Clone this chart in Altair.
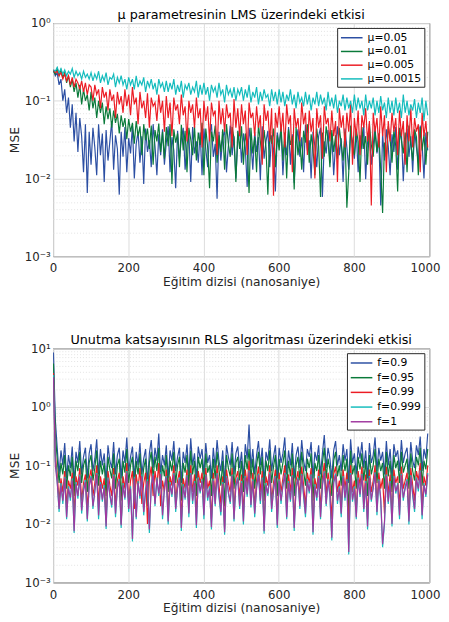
import altair as alt
import pandas as pd

STEP = 5  # samples between plotted points (x = 1, 6, 11, ...)
FONT = "DejaVu Sans"
INK = "#262626"

# ---------------- LMS panel ----------------
lms_names = ["μ=0.05", "μ=0.01", "μ=0.005", "μ=0.0015"]
lms_colors = ["#2c4fa3", "#0a7a3a", "#ec1c24", "#14bcbd"]

lms_005 = [
    .25, .21, .23, .16, .19, .1, .14, .07, .11, .045, .09, .03, .07, .022, .06, .035, .012, .05, .0065, .04,
    .015, .045, .025, .011, .05, .02, .038, .009, .042, .017, .03, .055, .013, .036, .024, .0062, .04, .019, .046, .012,
    .033, .021, .048, .01, .028, .04, .016, .035, .0085, .044, .022, .031, .014, .05, .026, .011, .037, .02, .043, .015,
    .029, .047, .012, .034, .023, .0075, .041, .018, .032, .045, .013, .027, .038, .009, .046, .021, .03, .016, .039, .011,
    .044, .024, .014, .036, .05, .019, .028, .0055, .04, .017, .033, .042, .012, .026, .048, .02, .035, .01, .031, .043,
    .016, .038, .025, .0078, .045, .029, .013, .04, .022, .034, .0095, .047, .018, .03, .041, .014, .036, .024, .0068, .039,
    .027, .044, .011, .032, .02, .046, .015, .037, .0088, .029, .043, .019, .034, .012, .049, .023, .031, .01, .04, .026,
    .014, .035, .045, .0058, .03, .021, .042, .016, .038, .011, .028, .047, .02, .033, .009, .044, .025, .013, .039, .03,
    .018, .041, .012, .036, .024, .048, .0098, .031, .04, .015, .027, .045, .021, .034, .0045, .038, .017, .043, .026, .011,
    .037, .022, .046, .013, .032, .04, .0092, .029, .044, .019, .035, .012, .042, .025, .016, .048, .028, .01, .039, .023,
]
lms_001 = [
    .24, .22, .26, .21, .25, .2, .23, .17, .21, .15, .19, .13, .17, .11, .16, .09, .14, .1, .12, .075,
    .13, .08, .11, .06, .1, .07, .095, .05, .085, .058, .08, .045, .075, .052, .068, .038, .065, .046, .06, .032,
    .058, .04, .052, .028, .055, .035, .047, .02, .05, .031, .044, .024, .048, .015, .042, .03, .051, .022, .04, .018,
    .046, .026, .05, .0085, .043, .029, .038, .014, .049, .023, .041, .012, .045, .032, .02, .047, .017, .039, .027, .052,
    .011, .044, .025, .0075, .04, .03, .048, .016, .036, .022, .043, .013, .05, .028, .019, .046, .033, .009, .041, .024,
    .047, .015, .038, .026, .0065, .045, .021, .034, .012, .049, .03, .018, .042, .025, .0062, .04, .028, .044, .014, .036,
    .023, .048, .017, .039, .01, .043, .027, .035, .0072, .046, .02, .032, .013, .041, .029, .05, .016, .037, .024, .011,
    .044, .026, .0058, .039, .019, .047, .031, .014, .042, .022, .036, .018, .045, .028, .017, .04, .0042, .012, .048, .025,
    .02, .043, .03, .009, .046, .024, .035, .015, .05, .027, .019, .041, .022, .038, .013, .0036, .029, .019, .047, .032,
    .016, .042, .026, .0068, .045, .031, .021, .039, .012, .048, .028, .017, .043, .034, .011, .046, .023, .037, .015, .04,
]
lms_0005 = [
    .25, .23, .24, .21, .23, .19, .22, .18, .21, .16, .2, .15, .19, .17, .14, .18, .13, .17, .12, .16,
    .15, .1, .16, .12, .14, .08, .15, .11, .13, .075, .14, .1, .12, .06, .13, .09, .115, .07, .14, .085,
    .12, .065, .15, .09, .11, .05, .13, .08, .1, .06, .125, .045, .11, .085, .095, .055, .12, .07, .1, .04,
    .115, .06, .095, .035, .11, .075, .09, .05, .12, .065, .085, .03, .1, .07, .09, .045, .11, .06, .08, .025,
    .1, .055, .085, .03, .095, .065, .075, .02, .1, .05, .08, .04, .09, .06, .07, .025, .105, .045, .08, .035,
    .09, .05, .075, .02, .095, .06, .07, .035, .085, .045, .065, .015, .09, .055, .075, .03, .08, .006, .07, .045,
    .085, .04, .07, .025, .09, .05, .065, .012, .08, .045, .06, .03, .095, .05, .07, .02, .075, .04, .06, .01,
    .08, .045, .065, .018, .085, .05, .06, .03, .075, .035, .055, .009, .08, .045, .065, .025, .07, .04, .09, .015,
    .06, .035, .075, .02, .065, .045, .08, .03, .055, .0045, .07, .04, .06, .025, .085, .035, .065, .012, .055, .03,
    .07, .04, .06, .02, .075, .035, .055, .015, .065, .03, .08, .025, .06, .04, .05, .012, .07, .035, .055, .025,
]
lms_00015 = [
    .25, .24, .27, .23, .26, .22, .25, .21, .24, .22, .26, .2, .24, .21, .23, .19, .24, .2, .22, .19,
    .23, .18, .22, .19, .24, .17, .21, .18, .23, .16, .2, .19, .22, .15, .2, .17, .21, .16, .19, .14,
    .2, .16, .19, .14, .21, .15, .18, .16, .2, .13, .18, .15, .19, .14, .17, .12, .19, .15, .17, .13,
    .18, .13, .17, .14, .19, .12, .16, .13, .18, .11, .16, .14, .17, .12, .15, .13, .18, .11, .16, .12,
    .17, .12, .15, .1, .16, .13, .15, .11, .17, .12, .14, .095, .16, .12, .14, .11, .15, .1, .14, .12,
    .15, .1, .14, .11, .16, .095, .13, .11, .15, .09, .13, .1, .14, .11, .12, .085, .14, .1, .13, .09,
    .14, .095, .13, .085, .12, .1, .14, .09, .12, .08, .13, .095, .11, .085, .13, .09, .12, .075, .11, .09,
    .13, .085, .12, .09, .11, .075, .13, .085, .11, .08, .12, .07, .1, .085, .12, .075, .11, .08, .1, .07,
    .12, .075, .11, .08, .1, .065, .12, .075, .1, .08, .11, .065, .1, .07, .115, .075, .095, .06, .11, .07,
    .1, .065, .11, .07, .095, .06, .12, .07, .1, .065, .09, .075, .105, .06, .095, .07, .11, .055, .1, .065,
]

# ---------------- RLS panel ----------------
rls_names = ["f=0.9", "f=0.95", "f=0.99", "f=0.999", "f=1"]
rls_colors = ["#2c4fa3", "#0a7a3a", "#ec1c24", "#14bcbd", "#a0399f"]

rls_09 = [
    8.5, .6, .2, .07, .18, .1, .24, .06, .15, .09, .21, .05, .17, .11, .26, .07, .14, .2, .06, .16,
    .23, .08, .13, .28, .07, .19, .1, .16, .05, .22, .12, .09, .25, .07, .15, .2, .06, .18, .11, .3,
    .08, .14, .21, .06, .17, .1, .24, .07, .13, .19, .05, .16, .27, .09, .2, .12, .35, .07, .15, .1,
    .22, .06, .18, .12, .26, .08, .14, .2, .05, .17, .11, .23, .07, .29, .1, .16, .06, .21, .13, .19,
    .07, .24, .11, .15, .06, .2, .09, .27, .12, .08, .18, .05, .22, .14, .1, .25, .07, .16, .21, .09,
    .17, .06, .23, .13, .5, .09, .19, .07, .15, .26, .1, .2, .05, .17, .12, .28, .08, .14, .22, .06,
    .2, .11, .16, .3, .07, .18, .1, .24, .06, .15, .21, .09, .27, .12, .08, .19, .14, .25, .06, .17,
    .12, .22, .07, .16, .33, .09, .2, .13, .06, .18, .26, .1, .15, .08, .23, .12, .19, .05, .28, .11,
    .16, .07, .21, .13, .25, .09, .18, .06, .24, .11, .15, .3, .08, .2, .12, .17, .07, .26, .1, .19,
    .06, .23, .14, .18, .08, .27, .11, .16, .2, .07, .25, .12, .09, .22, .15, .31, .08, .19, .13, .35,
]
rls_095 = [
    5.5, .35, .13, .05, .11, .07, .15, .04, .1, .065, .14, .03, .12, .08, .17, .05, .1, .13, .035, .11,
    .15, .055, .09, .18, .045, .12, .07, .11, .03, .14, .085, .06, .16, .04, .1, .13, .025, .12, .075, .19,
    .05, .1, .14, .035, .12, .07, .16, .045, .09, .13, .02, .11, .17, .06, .14, .08, .2, .04, .1, .065,
    .15, .035, .12, .08, .17, .05, .1, .14, .025, .11, .075, .15, .045, .18, .07, .12, .03, .14, .09, .13,
    .04, .16, .075, .1, .03, .13, .06, .17, .085, .045, .12, .02, .15, .09, .065, .16, .04, .11, .14, .055,
    .12, .035, .15, .085, .19, .06, .13, .04, .1, .17, .07, .14, .025, .12, .08, .18, .05, .095, .15, .03,
    .13, .07, .11, .18, .04, .12, .065, .16, .03, .1, .14, .055, .17, .08, .045, .13, .09, .16, .025, .11,
    .08, .15, .04, .11, .2, .06, .13, .085, .03, .12, .17, .065, .1, .045, .15, .08, .13, .015, .18, .07,
    .1, .04, .14, .085, .16, .055, .12, .03, .15, .07, .1, .19, .05, .13, .08, .11, .04, .17, .065, .12,
    .035, .15, .09, .12, .05, .17, .075, .1, .13, .04, .16, .08, .055, .14, .1, .2, .045, .12, .085, .19,
]
rls_099 = [
    3.8, .15, .07, .025, .06, .035, .08, .02, .055, .04, .075, .015, .065, .045, .09, .025, .05, .07, .018, .06,
    .085, .03, .05, .1, .022, .065, .04, .06, .012, .08, .045, .03, .09, .02, .055, .075, .01, .065, .04, .11,
    .025, .055, .08, .018, .07, .04, .09, .022, .05, .075, .01, .06, .095, .03, .08, .045, .11, .02, .055, .035,
    .085, .016, .065, .045, .1, .025, .055, .08, .012, .06, .04, .085, .02, .1, .035, .07, .014, .08, .05, .075,
    .02, .09, .04, .055, .012, .075, .03, .1, .045, .022, .065, .008, .085, .05, .035, .09, .018, .06, .08, .028,
    .07, .015, .085, .045, .12, .03, .075, .02, .055, .095, .035, .08, .01, .065, .045, .1, .025, .05, .085, .012,
    .075, .035, .06, .1, .018, .07, .035, .09, .011, .055, .08, .028, .095, .045, .02, .075, .05, .09, .01, .06,
    .04, .085, .018, .06, .11, .03, .075, .045, .012, .07, .095, .035, .055, .02, .085, .04, .075, .008, .1, .035,
    .055, .018, .08, .045, .095, .025, .07, .012, .085, .035, .055, .1, .022, .075, .04, .06, .015, .095, .032, .07,
    .014, .085, .05, .065, .02, .095, .04, .055, .075, .015, .09, .045, .025, .08, .055, .11, .02, .065, .045, .1,
]
rls_0999 = [
    3.5, .12, .055, .016, .05, .022, .064, .012, .044, .025, .06, .007, .052, .027, .07, .015, .04, .056, .011, .048,
    .066, .018, .038, .074, .012, .052, .024, .046, .0082, .062, .03, .019, .07, .013, .043, .058, .0085, .05, .026, .08,
    .016, .044, .005, .064, .012, .054, .027, .07, .014, .04, .058, .007, .048, .072, .02, .062, .03, .076, .012, .043,
    .066, .0098, .052, .029, .074, .016, .043, .062, .0076, .048, .026, .068, .013, .074, .022, .054, .0085, .062, .033, .058,
    .012, .07, .025, .044, .008, .059, .02, .074, .029, .014, .052, .0065, .066, .033, .022, .07, .011, .048, .062, .018,
    .054, .0098, .066, .029, .082, .019, .058, .013, .044, .072, .022, .062, .0068, .05, .03, .076, .016, .04, .066, .0085,
    .058, .022, .048, .074, .012, .054, .024, .068, .0076, .044, .062, .018, .072, .029, .013, .058, .033, .07, .0065, .048,
    .025, .066, .012, .048, .079, .02, .058, .029, .0052, .054, .072, .022, .044, .013, .066, .025, .058, .003, .074, .024,
    .044, .012, .062, .029, .072, .016, .054, .008, .066, .024, .044, .076, .014, .058, .025, .004, .01, .07, .022, .054,
    .009, .066, .033, .05, .012, .072, .025, .044, .058, .0098, .068, .03, .016, .062, .036, .082, .012, .05, .029, .074,
]
rls_1 = [
    3.2, .1, .05, .018, .045, .025, .06, .013, .04, .028, .055, .0075, .048, .03, .065, .017, .036, .052, .012, .044,
    .062, .02, .035, .07, .014, .048, .026, .042, .009, .058, .032, .021, .066, .015, .04, .055, .0095, .046, .028, .075,
    .018, .04, .0055, .06, .013, .05, .03, .066, .016, .036, .054, .008, .044, .068, .022, .058, .033, .072, .014, .04,
    .062, .011, .048, .032, .07, .018, .04, .058, .0085, .044, .028, .064, .015, .07, .025, .05, .0095, .058, .036, .054,
    .014, .066, .028, .04, .0088, .055, .022, .07, .032, .016, .048, .0072, .062, .036, .024, .066, .012, .044, .058, .02,
    .05, .011, .062, .032, .078, .021, .054, .015, .04, .068, .025, .058, .0075, .046, .033, .072, .018, .036, .062, .0095,
    .054, .025, .044, .07, .013, .05, .026, .064, .0085, .04, .058, .02, .068, .032, .015, .054, .036, .066, .0072, .044,
    .028, .062, .013, .044, .075, .022, .054, .032, .0058, .05, .068, .025, .04, .015, .062, .028, .054, .0033, .07, .026,
    .04, .013, .058, .032, .068, .018, .05, .009, .062, .026, .04, .072, .016, .054, .028, .0045, .011, .066, .024, .05,
    .01, .062, .036, .047, .014, .068, .028, .04, .054, .011, .064, .033, .018, .058, .04, .078, .014, .046, .032, .07,
]

X_TICKS = [0, 200, 400, 600, 800, 1000]
SUPERSCRIPT = {-3: "10⁻³", -2: "10⁻²", -1: "10⁻¹", 0: "10⁰", 1: "10¹"}


def log_tick_values(lo, hi):
    vals = []
    for e in range(lo, hi):
        for m in range(1, 10):
            vals.append(float(f"{m}e{e}"))
    vals.append(float(f"1e{hi}"))
    return vals


def y_axis(lo, hi):
    majors = [float(f"1e{e}") for e in range(lo, hi + 1)]
    expr = "''"
    for e in range(lo, hi + 1):
        expr = f"datum.value == {float(f'1e{e}')} ? '{SUPERSCRIPT[e]}' : ({expr})"
    test = "indexof([" + ",".join(str(m) for m in majors) + "], datum.value) >= 0"
    return alt.Axis(
        values=log_tick_values(lo, hi),
        labelExpr=expr,
        title="MSE",
        ticks=False,
        domain=False,
        labelPadding=3,
        titlePadding=3,
        gridDash={"condition": {"test": test, "value": []}, "value": [1, 2]},
        gridColor={"condition": {"test": test, "value": "#dcdcdc"}, "value": "#e2e2e2"},
    )


LAST = "datum.value == 1000"
x_axis = alt.Axis(
    values=X_TICKS, format="d", title="Eğitim dizisi (nanosaniye)", ticks=False,
    domain=False, labelPadding=7, titlePadding=2, gridColor="#dcdcdc",
    labelAlign={"condition": {"test": LAST, "value": "right"}, "value": "center"},
    labelOffset={"condition": {"test": LAST, "value": 11}, "value": 0},
)


def panel(names, colors, series, title, lo, hi, key, row_pad, height):
    legend = alt.Legend(
        orient="top-right", title=None, offset=5, fillColor="white", strokeColor=INK,
        padding=3, symbolType="M-1,0H2.6", symbolSize=150, symbolStrokeWidth=1.5,
        labelOffset=14, labelFontSize=11, labelFont=FONT, labelColor="black",
        rowPadding=row_pad,
    )
    layers = []
    for name, vals in zip(names, series):
        df = pd.DataFrame({"x": [1 + STEP * i for i in range(len(vals))], "y": vals, key: name})
        layers.append(
            alt.Chart(df).mark_line(strokeWidth=1.2, clip=True).encode(
                x=alt.X("x:Q", scale=alt.Scale(domain=[0, 1000], nice=False, zero=False), axis=x_axis),
                y=alt.Y("y:Q", scale=alt.Scale(type="log", domain=[float(f"1e{lo}"), float(f"1e{hi}")], nice=False),
                        axis=y_axis(lo, hi)),
                color=alt.Color(f"{key}:N", scale=alt.Scale(domain=names, range=colors), legend=legend),
            )
        )
    return alt.layer(*layers).properties(
        width=384, height=height,
        title=alt.TitleParams(title, fontSize=13, fontWeight="normal", font=FONT, color="black",
                              offset=1, dy=6),
    )


top = panel(lms_names, lms_colors, [lms_005, lms_001, lms_0005, lms_00015],
            "μ parametresinin LMS üzerindeki etkisi", -3, 0, "lms", 2, 238)
bottom = panel(rls_names, rls_colors, [rls_09, rls_095, rls_099, rls_0999, rls_1],
               "Unutma katsayısının RLS algoritması üzerindeki etkisi", -3, 1, "rls", 3, 239)

chart = (
    alt.vconcat(top, bottom, spacing=46)
    .resolve_scale(color="independent")
    .resolve_legend(color="independent")
    .properties(padding={"left": 0, "top": -6, "right": 0, "bottom": 0})
    .configure_view(stroke=INK, strokeWidth=1)
    .configure_axis(labelFont=FONT, titleFont=FONT, labelFontSize=12, titleFontSize=12.5,
                    labelColor=INK, titleColor=INK, titleFontWeight="normal")
)

chart.save("out.html", embed_options={"renderer": "svg", "actions": False})
